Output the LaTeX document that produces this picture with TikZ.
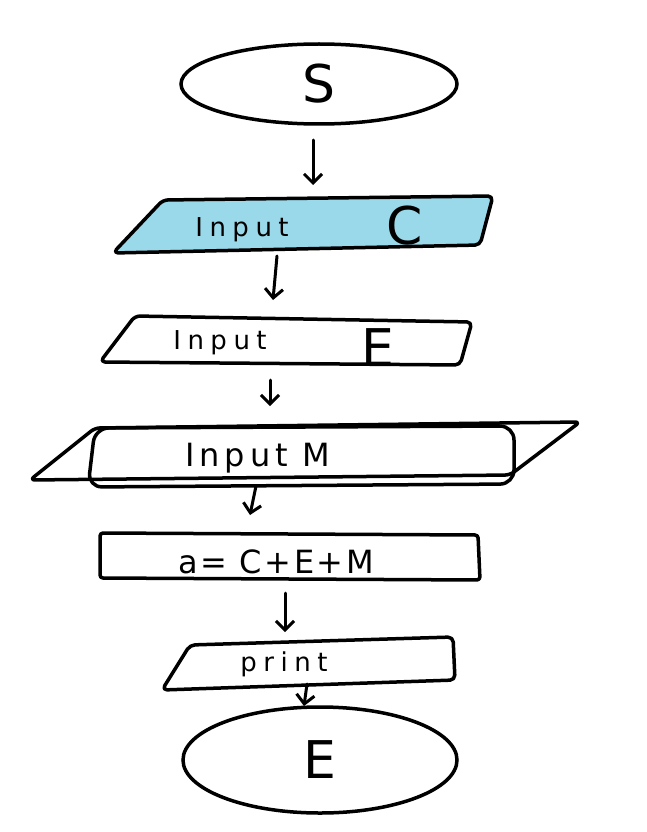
\documentclass[tikz,border=0pt]{standalone}
\usepackage{fontspec}
\setmainfont{DejaVu Sans}
\usetikzlibrary{shapes.geometric,arrows.meta}
\definecolor{paintblue}{RGB}{153,217,234}
\begin{document}
\begin{tikzpicture}[x=1pt,y=-1pt,
  outline/.style={draw=black,line width=3.5pt,line join=round,rounded corners=5pt},
  flow/.style={draw=black,line width=3pt,line cap=round,
    -{Straight Barb[length=9pt,width=18pt,line width=3pt]}},
  lbl/.style={font=\fontsize{26}{30}\selectfont\addfontfeature{LetterSpace=25},inner sep=0pt},
  big/.style={font=\fontsize{52}{58}\selectfont,inner sep=0pt}]
\useasboundingbox (0,0) rectangle (646,832);

% start terminal
\node[draw=black,line width=3.5pt,ellipse,minimum width=276pt,minimum height=80pt,
      big] (start) at (319,84) {S};

% input C (filled)
\draw[outline,fill=paintblue] (163,200) -- (493,196) -- (480,245) -- (113,253) -- cycle;
\node[lbl] (inC) at (242,230) {Input};
\node[big] (varC) at (405,226) {C};

% input E
\draw[outline] (135,316) -- (472,322) -- (460,365) -- (100,362) -- cycle;
\node[lbl] (inE) at (220,343) {Input};
\node[big] (varE) at (378,348) {E};

% input M with inner rounded box
\draw[outline] (95,428) -- (580,422) -- (510,475) -- (30,480) -- cycle;
\draw[outline,rounded corners=14pt] (95,428) -- (514,426) -- (514,484) -- (88,487) -- cycle;
\node[lbl,font=\fontsize{32}{36}\selectfont\addfontfeature{LetterSpace=15}] (inM) at (258,458) {Input M};

% process
\draw[outline,rounded corners=3pt] (100,533) -- (478,535) -- (480,580) -- (100,578) -- cycle;
\node[lbl,font=\fontsize{32}{36}\selectfont\addfontfeature{LetterSpace=8}] (calc) at (276,562) {a= C+E+M};

% print
\draw[outline] (190,645) -- (453,637) -- (455,680) -- (162,690) -- cycle;
\node[lbl] (prt) at (284,664) {print};

% end terminal
\node[draw=black,line width=3.5pt,ellipse,minimum width=274pt,minimum height=106pt,
      big] (stop) at (320,760) {E};

% connector end points
\coordinate (a1s) at (313,140); \coordinate (a1e) at (313,185);
\coordinate (a2s) at (277,256); \coordinate (a2e) at (273,300);
\coordinate (a3s) at (270,380); \coordinate (a3e) at (270,406);
\coordinate (a4s) at (256,486); \coordinate (a4e) at (250,515);
\coordinate (a5s) at (285,593); \coordinate (a5e) at (285,632);
\coordinate (a6s) at (307,684); \coordinate (a6e) at (304,706);

\draw[flow] (a1s) -- (a1e);
\draw[flow] (a2s) -- (a2e);
\draw[flow] (a3s) -- (a3e);
\draw[flow] (a4s) -- (a4e);
\draw[flow] (a5s) -- (a5e);
\draw[flow] (a6s) -- (a6e);
\end{tikzpicture}
\end{document}
